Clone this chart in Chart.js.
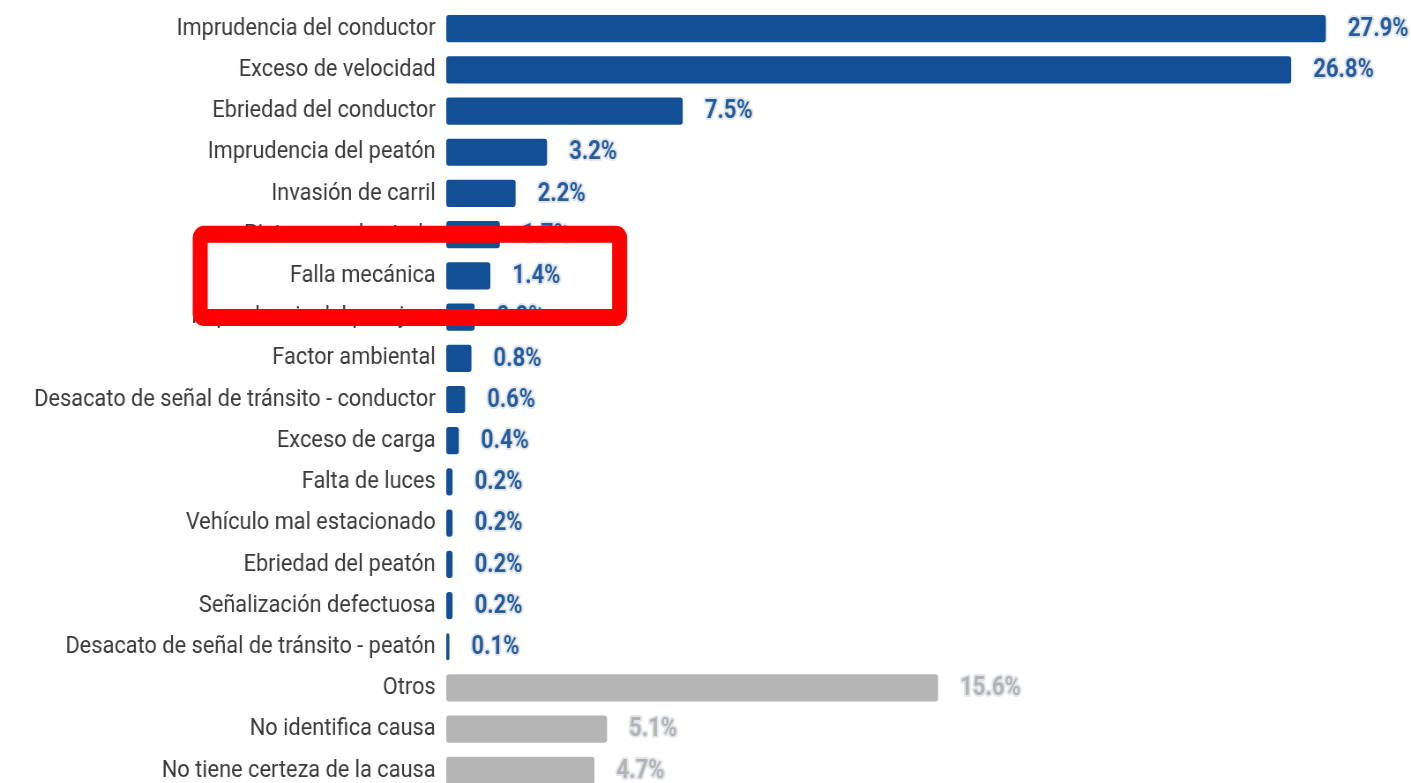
<!DOCTYPE html>
<html>
<head>
<meta charset="utf-8">
<script src="https://cdn.jsdelivr.net/npm/chart.js@4"></script>
<style>
  html, body { margin: 0; padding: 0; background: #fff; overflow: hidden; }
</style>
</head>
<body>
<canvas id="chart" width="1600" height="792" style="display:block;width:1411px;height:792px"></canvas>
<script>
// Causas de accidentes de tránsito (%)
const causes = [
    'Imprudencia del conductor',
    'Exceso de velocidad',
    'Ebriedad del conductor',
    'Imprudencia del peatón',
    'Invasión de carril',
    'Pista en mal estado',
    'Falla mecánica',
    'Imprudencia del pasajero',
    'Factor ambiental',
    'Desacato de señal de tránsito - conductor',
    'Exceso de carga',
    'Falta de luces',
    'Vehículo mal estacionado',
    'Ebriedad del peatón',
    'Señalización defectuosa',
    'Desacato de señal de tránsito - peatón',
    'Otros',
    'No identifica causa',
    'No tiene certeza de la causa'
];
const shares = [27.9, 26.8, 7.5, 3.2, 2.2, 1.7, 1.4, 0.9, 0.8, 0.6, 0.4, 0.2, 0.2, 0.2, 0.2, 0.1, 15.6, 5.1, 4.7];
const unassigned = ['Otros', 'No identifica causa', 'No tiene certeza de la causa'];
const highlighted = 'Falla mecánica';

const BLUE = '#124f96';
const GREY = '#b5b5b5';
const isGrey = c => unassigned.includes(c);

// value labels with a light halo, right of each bar
const valueLabels = {
    id: 'valueLabels',
    afterDatasetsDraw(chart) {
        const ctx = chart.ctx;
        const meta = chart.getDatasetMeta(0);
        ctx.save();
        ctx.font = 'bold 25px Roboto';
        ctx.textBaseline = 'middle';
        ctx.textAlign = 'left';
        ctx.lineJoin = 'round';
        meta.data.forEach((bar, i) => {
            const txt = shares[i].toFixed(1) + '%';
            const x = bar.x + 25;
            const y = bar.y + 1;
            ctx.lineWidth = 4;
            ctx.strokeStyle = '#e2e6ec';
            ctx.strokeText(txt, x, y);
            ctx.fillStyle = isGrey(causes[i]) ? '#b3b3b3' : '#245c9f';
            ctx.fillText(txt, x, y);
        });
        ctx.restore();
    }
};

// red highlight frame round one category
const highlightBox = {
    id: 'highlightBox',
    afterDraw(chart) {
        const { ctx, chartArea, scales } = chart;
        const idx = causes.indexOf(highlighted);
        const yc = scales.y.getPixelForValue(idx);
        const row = scales.y.getPixelForValue(1) - scales.y.getPixelForValue(0);
        const left = chartArea.left - 279;
        const right = scales.x.getPixelForValue(5.5);
        const h = row * 2.02;
        ctx.save();
        ctx.strokeStyle = '#ff0000';
        ctx.lineWidth = 17;
        ctx.beginPath();
        ctx.roundRect(left, yc - h / 2, right - left, h, 4);
        ctx.stroke();
        ctx.restore();
    }
};

new Chart(document.getElementById('chart'), {
    type: 'bar',
    data: {
        labels: causes,
        datasets: [{
            data: shares,
            backgroundColor: causes.map(c => isGrey(c) ? GREY : BLUE),
            borderRadius: 3,
            borderSkipped: false,
            barPercentage: 0.66,
            categoryPercentage: 1
        }]
    },
    options: {
        indexAxis: 'y',
        responsive: false,
        animation: false,
        layout: { padding: { top: 8, bottom: 1, left: 0, right: 0 } },
        plugins: { legend: { display: false }, tooltip: { enabled: false } },
        scales: {
            x: { display: false, min: 0, max: 30.6 },
            y: {
                grid: { display: false, drawTicks: false },
                border: { display: false },
                afterFit: s => { s.width = 506; s.paddingTop = 0; s.paddingBottom = 0; },
                ticks: {
                    padding: 12,
                    color: '#3a3a3a',
                    font: { family: 'Roboto', size: 24.7 }
                }
            }
        }
    },
    plugins: [valueLabels, highlightBox]
});
</script>
</body>
</html>
